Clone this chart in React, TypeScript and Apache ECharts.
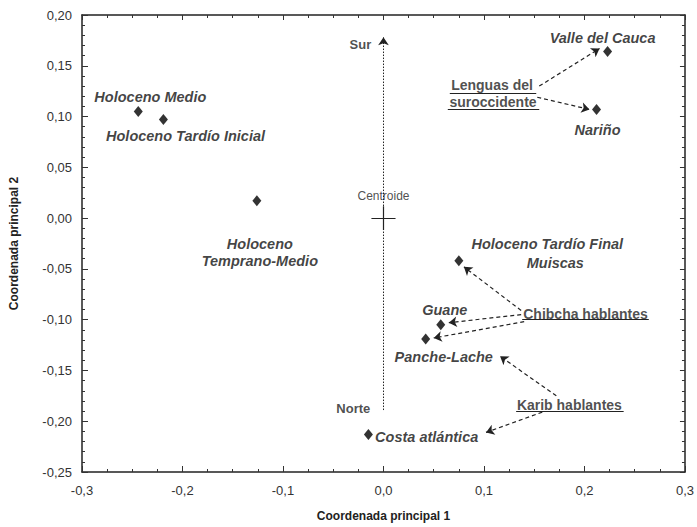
import React, { useEffect, useRef } from "react";
import * as echarts from "echarts";

// Scatter points (Coordenada principal 1, Coordenada principal 2)
const pointNames = [
  "Holoceno Medio",
  "Holoceno Tardío Inicial",
  "Holoceno Temprano-Medio",
  "Valle del Cauca",
  "Nariño",
  "Holoceno Tardío Final Muiscas",
  "Guane",
  "Panche-Lache",
  "Costa atlántica",
];
const pointX = [-0.244, -0.219, -0.126, 0.223, 0.212, 0.075, 0.057, 0.042, -0.015];
const pointY = [0.105, 0.097, 0.017, 0.164, 0.107, -0.042, -0.105, -0.119, -0.213];

// Italic point labels
const labelTexts = [
  "Holoceno Medio",
  "Holoceno Tardío Inicial",
  "Holoceno\nTemprano-Medio",
  "Valle del Cauca",
  "Nariño",
  "Holoceno Tardío Final",
  "Muiscas",
  "Guane",
  "Panche-Lache",
  "Costa atlántica",
];
const labelX = [-0.232, -0.197, -0.123, 0.218, 0.213, 0.163, 0.171, 0.061, 0.06, 0.043];
const labelY = [0.119, 0.081, -0.034, 0.177, 0.087, -0.025, -0.044, -0.09, -0.137, -0.216];

// Group labels (underlined)
const groupTexts = ["Lenguas del", "suroccidente", "Chibcha hablantes", "Karib hablantes"];
const groupX = [0.108, 0.109, 0.201, 0.185];
const groupY = [0.131, 0.114, -0.094, -0.184];
const underlineX0 = [0.066, 0.064, 0.138, 0.132];
const underlineX1 = [0.152, 0.155, 0.264, 0.239];
const underlineY = [0.123, 0.107, -0.1, -0.19];

// Arrows from group labels to points
const arrowX0 = [0.155, 0.153, 0.137, 0.137, 0.14, 0.172, 0.158];
const arrowY0 = [0.13, 0.119, -0.091, -0.095, -0.102, -0.175, -0.191];
const arrowX1 = [0.215, 0.205, 0.08, 0.065, 0.05, 0.116, 0.102];
const arrowY1 = [0.167, 0.107, -0.048, -0.103, -0.118, -0.136, -0.211];

// Sur–Norte direction
const directionTexts = ["Sur", "Norte"];
const directionX = [-0.023, -0.03];
const directionY = [0.171, -0.187];
const directionLineY = [-0.189, 0.178];

// Centroid
const centroidLabel = "Centroide";
const centroid = [0, 0];
const crossHalfX = 0.012;
const crossHalfY = 0.0118;

const xTicksMin = -0.3;
const xTicksMax = 0.3;
const yTicksMin = -0.25;
const yTicksMax = 0.2;

const FONT = "Liberation Sans, Arial, sans-serif";

export default function App() {
  const ref = useRef<HTMLDivElement>(null);
  useEffect(() => {
    if (!ref.current) return;
    const chart = echarts.init(ref.current, null, { renderer: "svg" });
    const fmtX = (v: number) => v.toFixed(1).replace(".", ",").replace("-0,0", "0,0");
    const fmtY = (v: number) => v.toFixed(2).replace(".", ",").replace("-0,00", "0,00");
    const axisLine = { show: true, onZero: false, lineStyle: { color: "#222", width: 1.5 } };
    const tickStyle = { lineStyle: { color: "#333", width: 1 } };
    const italicLabel = {
      show: true,
      position: "inside" as const,
      formatter: (p: any) => p.name,
      fontFamily: FONT,
      fontSize: 14.5,
      fontWeight: "bold" as const,
      fontStyle: "italic" as const,
      color: "#111",
      lineHeight: 17,
    };
    const plainBold = { ...italicLabel, fontStyle: "normal" as const, fontSize: 14, color: "#222" };
    chart.setOption({
      animation: false,
      backgroundColor: "#fff",
      grid: { left: 82, right: 11, top: 15, bottom: 52 },
      xAxis: [
        {
          type: "value",
          min: xTicksMin,
          max: xTicksMax,
          interval: 0.1,
          position: "bottom",
          axisLine,
          axisTick: { show: true, inside: true, length: 6, ...tickStyle },
          minorTick: { show: true, splitNumber: 4, length: 3, lineStyle: { color: "#333" } },
          splitLine: { show: false },
          axisLabel: { formatter: fmtX, fontFamily: FONT, fontSize: 13, color: "#333", margin: 12 },
          name: "Coordenada principal 1",
          nameLocation: "middle",
          nameGap: 38,
          nameTextStyle: { fontFamily: FONT, fontSize: 12, fontWeight: "bold", color: "#222" },
        },
        {
          type: "value",
          min: xTicksMin,
          max: xTicksMax,
          interval: 0.1,
          position: "top",
          axisLine,
          axisTick: { show: true, inside: true, length: 5, ...tickStyle },
          minorTick: { show: true, splitNumber: 4, length: 3, lineStyle: { color: "#333" } },
          splitLine: { show: false },
          axisLabel: { show: false },
        },
      ],
      yAxis: [
        {
          type: "value",
          min: yTicksMin,
          max: yTicksMax,
          interval: 0.05,
          position: "left",
          axisLine,
          axisTick: { show: true, inside: true, length: 6, ...tickStyle },
          minorTick: { show: true, splitNumber: 5, length: 3, lineStyle: { color: "#333" } },
          splitLine: { show: false },
          axisLabel: { formatter: fmtY, fontFamily: FONT, fontSize: 13, color: "#333", margin: 10 },
          name: "Coordenada principal 2",
          nameLocation: "middle",
          nameGap: 62,
          nameTextStyle: { fontFamily: FONT, fontSize: 12, fontWeight: "bold", color: "#222" },
        },
        {
          type: "value",
          min: yTicksMin,
          max: yTicksMax,
          interval: 0.05,
          position: "right",
          axisLine,
          axisTick: { show: true, inside: true, length: 5, ...tickStyle },
          minorTick: { show: true, splitNumber: 5, length: 3, lineStyle: { color: "#333" } },
          splitLine: { show: false },
          axisLabel: { show: false },
        },
      ],
      series: [
        {
          type: "lines",
          coordinateSystem: "cartesian2d",
          symbol: ["none", "arrow"],
          symbolSize: 8,
          lineStyle: { color: "#222", width: 1, type: [1.5, 1.5], opacity: 1 },
          silent: true,
          data: [{ coords: [[0, directionLineY[0]], [0, directionLineY[1]]] }],
          z: 2,
        },
        {
          type: "lines",
          coordinateSystem: "cartesian2d",
          symbol: ["none", "arrow"],
          symbolSize: 8,
          lineStyle: { color: "#222", width: 1.2, type: [4, 3], opacity: 1 },
          silent: true,
          data: arrowX0.map((x0, i) => ({
            coords: [[x0, arrowY0[i]], [arrowX1[i], arrowY1[i]]],
          })),
          z: 2,
        },
        {
          type: "lines",
          coordinateSystem: "cartesian2d",
          symbol: ["none", "none"],
          lineStyle: { color: "#222", width: 1.2, type: "solid", opacity: 1 },
          silent: true,
          data: [
            ...underlineX0.map((x0, i) => ({
              coords: [[x0, underlineY[i]], [underlineX1[i], underlineY[i]]],
            })),
            { coords: [[centroid[0] - crossHalfX, centroid[1]], [centroid[0] + crossHalfX, centroid[1]]] },
            { coords: [[centroid[0], centroid[1] - crossHalfY], [centroid[0], centroid[1] + crossHalfY]] },
          ],
          z: 2,
        },
        {
          type: "scatter",
          symbol: "diamond",
          symbolSize: [9, 11],
          itemStyle: { color: "#000" },
          data: pointNames.map((n, i) => ({ name: n, value: [pointX[i], pointY[i]] })),
          z: 3,
        },
        {
          type: "scatter",
          symbolSize: 1,
          itemStyle: { color: "rgba(0,0,0,0)" },
          label: italicLabel,
          data: labelTexts.map((t, i) => ({ name: t, value: [labelX[i], labelY[i]] })),
          z: 4,
        },
        {
          type: "scatter",
          symbolSize: 1,
          itemStyle: { color: "rgba(0,0,0,0)" },
          label: plainBold,
          data: groupTexts.map((t, i) => ({ name: t, value: [groupX[i], groupY[i]] })),
          z: 4,
        },
        {
          type: "scatter",
          symbolSize: 1,
          itemStyle: { color: "rgba(0,0,0,0)" },
          label: { ...plainBold, fontSize: 13 },
          data: directionTexts.map((t, i) => ({ name: t, value: [directionX[i], directionY[i]] })),
          z: 4,
        },
        {
          type: "scatter",
          symbolSize: 1,
          itemStyle: { color: "rgba(0,0,0,0)" },
          label: { ...italicLabel, fontStyle: "normal", fontWeight: "normal", fontSize: 12, color: "#222" },
          data: [{ name: centroidLabel, value: [centroid[0], 0.0215] }],
          z: 4,
        },
      ],
    });
    return () => chart.dispose();
  }, []);
  return (
    <div
      ref={ref}
      style={{ position: "fixed", left: 0, top: 0, width: 697, height: 527, background: "#fff" }}
    />
  );
}
